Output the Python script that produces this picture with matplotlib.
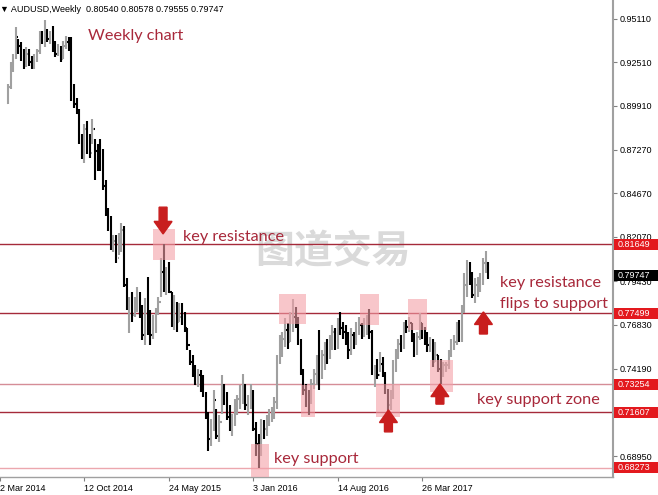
import numpy as np
import matplotlib.pyplot as plt
import matplotlib.transforms as mtransforms
from matplotlib.collections import LineCollection
from matplotlib.patches import Rectangle, FancyArrow

# 1. Data (weekly AUDUSD bars, week index 0 = 2 Mar 2014)

first_week = 3
first_open = 0.9010

highs = [0.9120, 0.9250, 0.9300, 0.9460, 0.9390, 0.9370, 0.9330, 0.9340, 0.9330, 0.9290,
         0.9300, 0.9330, 0.9440, 0.9440, 0.9505, 0.9450, 0.9440, 0.9470, 0.9380, 0.9360,
         0.9350, 0.9380, 0.9410, 0.9400, 0.9400, 0.9120, 0.9040, 0.8970, 0.8820, 0.8880,
         0.8900, 0.8820, 0.8910, 0.8790, 0.8760, 0.8790, 0.8730, 0.8550, 0.8380, 0.8330,
         0.8220, 0.8220, 0.8230, 0.8290, 0.8270, 0.7960, 0.7850, 0.7880, 0.7850, 0.7910,
         0.7880, 0.7800, 0.7840, 0.7970, 0.7770, 0.7740, 0.7780, 0.7850, 0.8080, 0.8165,
         0.8030, 0.8060, 0.7880, 0.7860, 0.7820, 0.7810, 0.7810, 0.7760, 0.7660, 0.7530,
         0.7500, 0.7440, 0.7420, 0.7410, 0.7380, 0.7280, 0.7160, 0.7120, 0.7290, 0.7180,
         0.7140, 0.7380, 0.7330, 0.7280, 0.7200, 0.7150, 0.7240, 0.7260, 0.7320, 0.7385,
         0.7330, 0.7260, 0.7330, 0.7290, 0.7100, 0.7030, 0.7120, 0.7110, 0.7140, 0.7180,
         0.7190, 0.7250, 0.7500, 0.7620, 0.7640, 0.7720, 0.7690, 0.7760, 0.7835, 0.7790,
         0.7730, 0.7600, 0.7420, 0.7330, 0.7290, 0.7360, 0.7420, 0.7500, 0.7650, 0.7530,
         0.7580, 0.7600, 0.7620, 0.7680, 0.7660, 0.7720, 0.7760, 0.7700, 0.7680, 0.7640,
         0.7660, 0.7640, 0.7700, 0.7730, 0.7690, 0.7720, 0.7740, 0.7778, 0.7650, 0.7440,
         0.7480, 0.7520, 0.7490, 0.7400, 0.7300, 0.7290, 0.7470, 0.7540, 0.7600, 0.7620,
         0.7700, 0.7710, 0.7730, 0.7690, 0.7630, 0.7640, 0.7750, 0.7690, 0.7670, 0.7640,
         0.7610, 0.7600, 0.7580, 0.7500, 0.7480, 0.7460, 0.7460, 0.7530, 0.7600, 0.7620,
         0.7700, 0.7710, 0.7800, 0.7990, 0.8070, 0.8060, 0.8000, 0.7960, 0.7970, 0.7990,
         0.8080, 0.8125, 0.80578]

lows = [0.9000, 0.9090, 0.9190, 0.9270, 0.9300, 0.9260, 0.9210, 0.9220, 0.9230, 0.9210,
        0.9210, 0.9250, 0.9300, 0.9360, 0.9340, 0.9370, 0.9360, 0.9310, 0.9280, 0.9290,
        0.9250, 0.9270, 0.9330, 0.9320, 0.9020, 0.8980, 0.8940, 0.8760, 0.8670, 0.8650,
        0.8700, 0.8680, 0.8760, 0.8550, 0.8600, 0.8600, 0.8490, 0.8330, 0.8240, 0.8130,
        0.8120, 0.8050, 0.8100, 0.8120, 0.7910, 0.7770, 0.7630, 0.7700, 0.7730, 0.7760,
        0.7720, 0.7590, 0.7560, 0.7620, 0.7560, 0.7600, 0.7630, 0.7740, 0.7850, 0.7880,
        0.7860, 0.7870, 0.7670, 0.7650, 0.7640, 0.7700, 0.7680, 0.7640, 0.7530, 0.7440,
        0.7370, 0.7320, 0.7310, 0.7280, 0.7250, 0.7120, 0.6930, 0.6960, 0.7050, 0.7000,
        0.6980, 0.7150, 0.7200, 0.7110, 0.7050, 0.7020, 0.7080, 0.7140, 0.7180, 0.7210,
        0.7170, 0.7140, 0.7180, 0.7050, 0.6900, 0.6827, 0.6900, 0.7000, 0.7020, 0.7080,
        0.7100, 0.7120, 0.7180, 0.7450, 0.7490, 0.7550, 0.7540, 0.7580, 0.7640, 0.7660,
        0.7560, 0.7380, 0.7260, 0.7190, 0.7145, 0.7210, 0.7300, 0.7320, 0.7290, 0.7360,
        0.7410, 0.7450, 0.7480, 0.7530, 0.7530, 0.7540, 0.7620, 0.7600, 0.7560, 0.7480,
        0.7500, 0.7540, 0.7560, 0.7620, 0.7600, 0.7610, 0.7620, 0.7600, 0.7380, 0.7310,
        0.7360, 0.7400, 0.7370, 0.7270, 0.7160, 0.7170, 0.7240, 0.7400, 0.7480, 0.7520,
        0.7540, 0.7630, 0.7640, 0.7580, 0.7490, 0.7500, 0.7590, 0.7600, 0.7560, 0.7520,
        0.7520, 0.7430, 0.7460, 0.7400, 0.7330, 0.7370, 0.7400, 0.7420, 0.7490, 0.7530,
        0.7560, 0.7580, 0.7580, 0.7750, 0.7850, 0.7920, 0.7840, 0.7810, 0.7850, 0.7880,
        0.7920, 0.7990, 0.79555]

closes = [0.9105, 0.9245, 0.9275, 0.9400, 0.9350, 0.9290, 0.9230, 0.9300, 0.9250, 0.9220,
          0.9280, 0.9320, 0.9420, 0.9380, 0.9400, 0.9390, 0.9420, 0.9330, 0.9300, 0.9320,
          0.9270, 0.9350, 0.9370, 0.9340, 0.9030, 0.9000, 0.8950, 0.8780, 0.8700, 0.8850,
          0.8780, 0.8710, 0.8850, 0.8720, 0.8640, 0.8620, 0.8510, 0.8350, 0.8260, 0.8160,
          0.8180, 0.8080, 0.8200, 0.8250, 0.7920, 0.7790, 0.7810, 0.7740, 0.7800, 0.7850,
          0.7740, 0.7620, 0.7780, 0.7660, 0.7620, 0.7700, 0.7760, 0.7820, 0.8000, 0.7920,
          0.7980, 0.7880, 0.7700, 0.7760, 0.7700, 0.7730, 0.7710, 0.7660, 0.7560, 0.7460,
          0.7400, 0.7330, 0.7380, 0.7300, 0.7270, 0.7150, 0.7000, 0.7080, 0.7230, 0.7020,
          0.7100, 0.7300, 0.7240, 0.7130, 0.7080, 0.7120, 0.7200, 0.7240, 0.7300, 0.7320,
          0.7200, 0.7220, 0.7280, 0.7060, 0.6970, 0.6920, 0.7080, 0.7060, 0.7120, 0.7150,
          0.7160, 0.7220, 0.7470, 0.7580, 0.7600, 0.7650, 0.7580, 0.7700, 0.7730, 0.7700,
          0.7580, 0.7410, 0.7290, 0.7230, 0.7220, 0.7330, 0.7390, 0.7460, 0.7440, 0.7500,
          0.7540, 0.7510, 0.7600, 0.7640, 0.7560, 0.7680, 0.7660, 0.7640, 0.7600, 0.7530,
          0.7620, 0.7570, 0.7650, 0.7680, 0.7620, 0.7680, 0.7700, 0.7640, 0.7400, 0.7420,
          0.7380, 0.7450, 0.7390, 0.7280, 0.7200, 0.7270, 0.7440, 0.7500, 0.7570, 0.7560,
          0.7680, 0.7670, 0.7690, 0.7620, 0.7520, 0.7610, 0.7690, 0.7640, 0.7580, 0.7560,
          0.7580, 0.7460, 0.7500, 0.7420, 0.7400, 0.7440, 0.7440, 0.7520, 0.7570, 0.7580,
          0.7690, 0.7600, 0.7790, 0.7920, 0.7980, 0.7960, 0.7860, 0.7920, 0.7940, 0.7950,
          0.8050, 0.8054, 0.79747]

levels = [0.81649, 0.77499, 0.73254, 0.71607, 0.68273]
level_colors = ['#a52a3a', '#a52a3a', '#d58d97', '#a52a3a', '#eca7ae']
last_price = 0.79747

yticks = [0.95110, 0.92510, 0.89910, 0.87270, 0.84670, 0.82070, 0.79430,
          0.76830, 0.74190, 0.68950]
xtick_weeks = [0, 32, 64, 96, 128, 160]
xtick_labels = ['2 Mar 2014', '12 Oct 2014', '24 May 2015', '3 Jan 2016',
                '14 Aug 2016', '26 Mar 2017']

# highlighted zones: (week_from, week_to, price_low, price_high)
zones = [(58.1, 66.3, 0.8070, 0.8255),
         (105.7, 115.8, 0.7687, 0.7867),
         (113.9, 119.5, 0.7131, 0.7322),
         (136.4, 143.5, 0.7681, 0.7867),
         (142.4, 151.7, 0.7131, 0.7328),
         (95.2, 101.9, 0.6772, 0.6970),
         (154.7, 161.8, 0.7651, 0.7837),
         (163.0, 171.6, 0.7280, 0.7472)]

# arrows: (week, tail price, tip price)
arrows = [(61.8, 0.8385, 0.8225),
          (147.2, 0.7042, 0.7173),
          (166.7, 0.7208, 0.7328),
          (183.2, 0.7627, 0.7759)]

notes = [('Weekly chart', 33.3, 0.9408),
         ('key resistance', 69.3, 0.8207),
         ('key resistance', 189.3, 0.7932),
         ('flips to support', 189.3, 0.7806),
         ('key support zone', 180.6, 0.7232),
         ('key support', 104.0, 0.6880)]

# 2. Figure

fig = plt.figure(figsize=(6.58, 4.95), dpi=100)
ax = fig.add_axes([0, 18 / 495, 613 / 658, 477 / 495])
ax.set_xlim(2.62, 232.3)
ax.set_ylim(0.67723, 0.96233)

weeks = np.arange(first_week, first_week + len(closes))
closes_a = np.array(closes)
opens = np.r_[first_open, closes_a[:-1]]
bar_colors = ['#a0a0a0' if c >= o else '#000000' for o, c in zip(opens, closes_a)]

segs = []
cols = []
for w, o, h, l, c, col in zip(weeks, opens, highs, lows, closes_a, bar_colors):
    segs += [[(w, l), (w, h)], [(w - 0.45, o), (w, o)], [(w, c), (w + 0.45, c)]]
    cols += [col] * 3
ax.add_collection(LineCollection(segs, colors=cols, linewidths=1.5, zorder=3))

for lv, lc in zip(levels, level_colors):
    ax.axhline(lv, color=lc, lw=1.0, zorder=2)

for x0, x1, p0, p1 in zones:
    ax.add_patch(Rectangle((x0, p0), x1 - x0, p1 - p0, facecolor='#f4a0a8',
                           edgecolor='none', alpha=0.6, zorder=4))

for w, p_tail, p_tip in arrows:
    ax.add_patch(FancyArrow(w, p_tail, 0, p_tip - p_tail, width=3.0, head_width=6.8,
                            head_length=0.0075, length_includes_head=True,
                            color='#c81e1e', zorder=5))

for txt, w, p in notes:
    ax.text(w, p, txt, color='#a8283a', fontsize=11.7, family='Lato',
            va='center', ha='left', zorder=6)

ax.text(126.0, 0.8117, '图道交易', family=['Noto Sans CJK SC', 'DejaVu Sans'],
        fontsize=28, fontweight='bold', color='#dadada', ha='center', va='center', zorder=1)

# 3. Axes styling

for s in ['top', 'left']:
    ax.spines[s].set_visible(False)
ax.spines['right'].set_color('#a0a0a0')
ax.spines['right'].set_linewidth(1.5)
ax.spines['bottom'].set_color('#a0a0a0')
ax.spines['bottom'].set_linewidth(1.0)

ax.yaxis.tick_right()
ax.set_yticks(yticks)
ax.set_yticklabels([f'{v:.5f}' for v in yticks])
ax.tick_params(axis='y', length=3, width=0.8, color='#808080', pad=2,
               labelsize=6.5, labelcolor='black')
ax.set_xticks(xtick_weeks)
ax.set_xticklabels(xtick_labels)
ax.tick_params(axis='x', length=3, width=0.8, color='#808080', pad=2,
               labelsize=6.5, labelcolor='black')
for lab in ax.get_xticklabels():
    lab.set_horizontalalignment('left')
    lab.set_fontfamily('Liberation Sans')
for lab in ax.get_yticklabels():
    lab.set_fontfamily('Liberation Sans')

# price labels on right axis
trans = mtransforms.blended_transform_factory(ax.transAxes, ax.transData)
box_h = 11 * 0.0005977
for lv in levels + [last_price]:
    fc = 'black' if lv == last_price else '#e3191e'
    ax.add_patch(Rectangle((1.002, lv - box_h / 2), 0.075, box_h, transform=trans,
                           facecolor=fc, edgecolor='none', clip_on=False, zorder=7))
    ax.text(1.008, lv, f'{lv:.5f}', transform=trans, color='white', fontsize=6.5,
            family='Liberation Sans', va='center', ha='left', clip_on=False, zorder=8)

fig.text(0.0, 1 - 9 / 495, '▼ AUDUSD,Weekly  0.80540 0.80578 0.79555 0.79747',
         fontsize=6.5, family=['Liberation Sans', 'DejaVu Sans'], va='center', ha='left')

fig.savefig('out.png', dpi=100)
